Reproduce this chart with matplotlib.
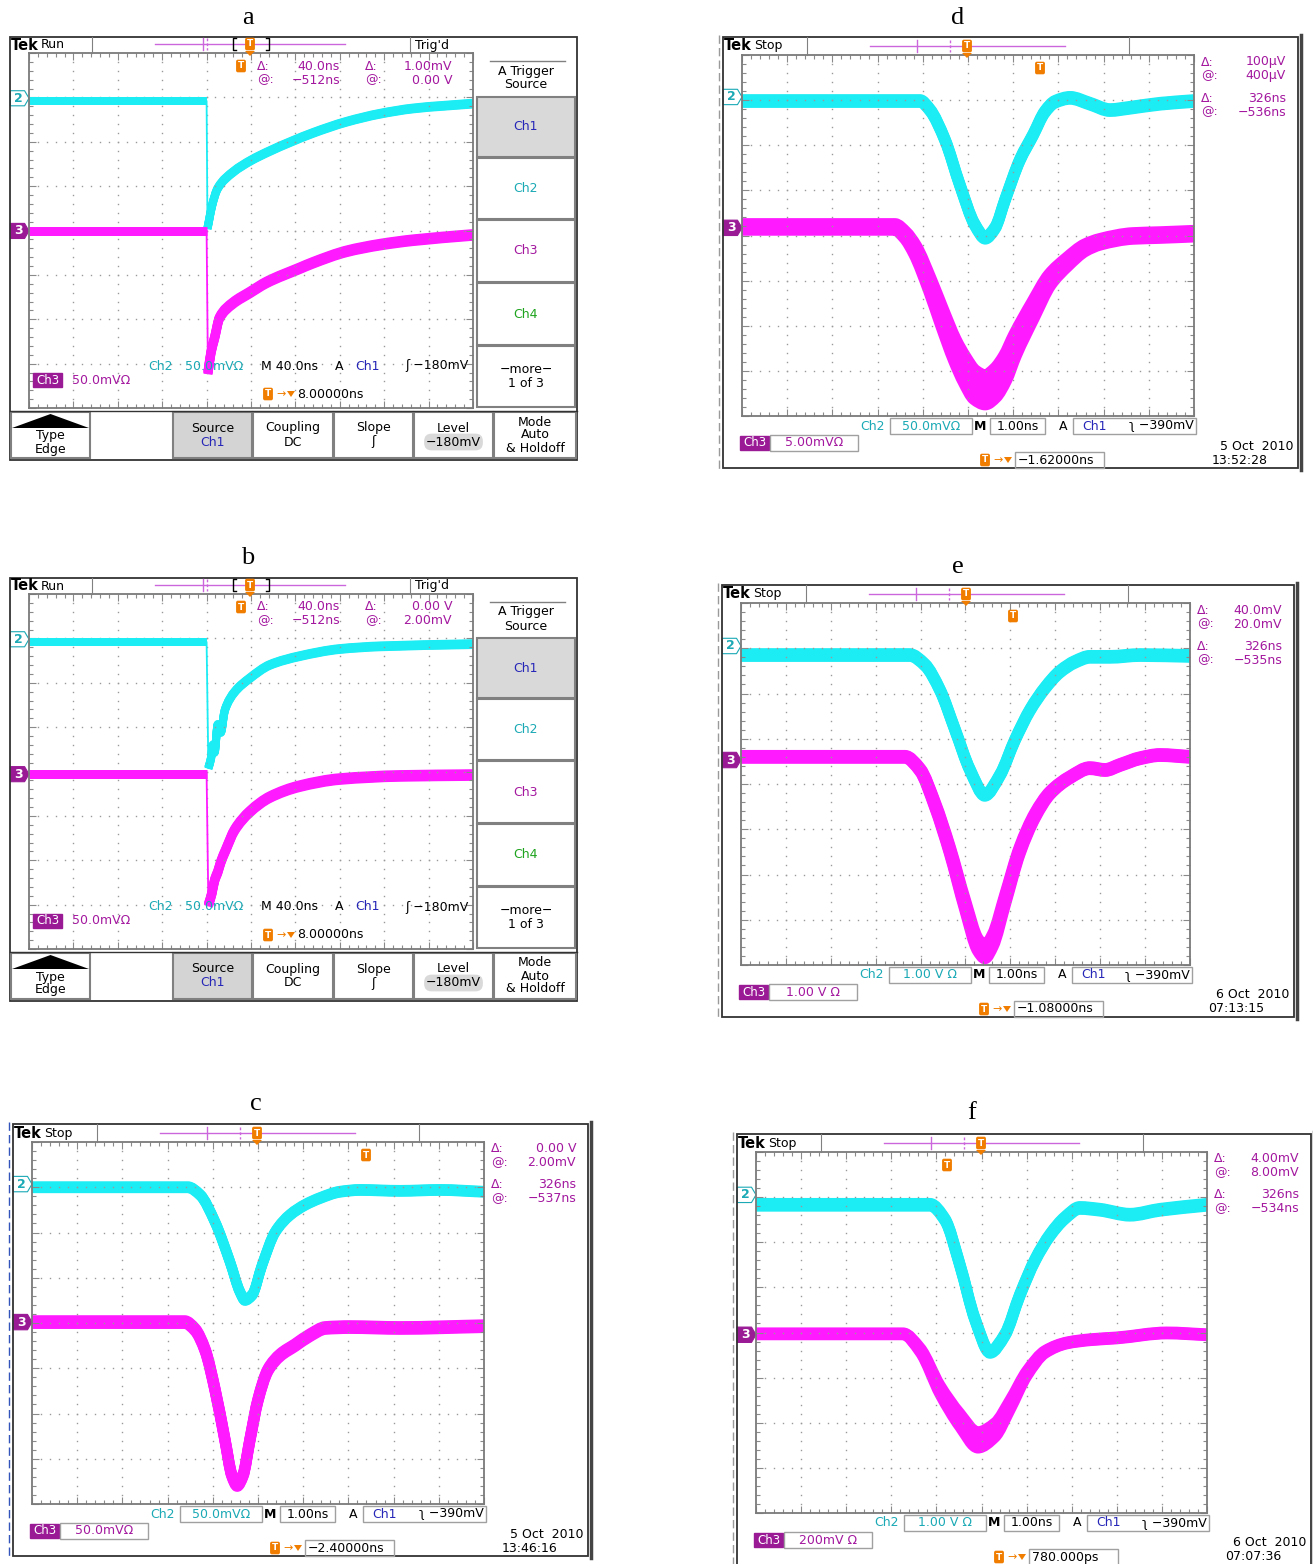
import matplotlib
matplotlib.use('Agg')
import matplotlib.pyplot as plt
from matplotlib.patches import Rectangle, Polygon, PathPatch
from matplotlib.path import Path
import numpy as np

plt.rcParams['font.family'] = ['DejaVu Sans']

W, H = 1313, 1564

# trace data in screen divisions: t = 0..10 across, v = 0..8 from the bottom
a_ch2_t = [0, 4.0, 4.02, 4.05, 4.12, 4.25, 4.6, 5.0, 5.4, 5.9, 6.4, 7.15, 7.9, 8.65, 10.0]
a_ch2_v = [6.91, 6.91, 4.05, 4.2, 4.55, 4.95, 5.32, 5.58, 5.78, 6.0, 6.2, 6.45, 6.63, 6.75, 6.86]
a_ch3_t = [0, 4.0, 4.03, 4.1, 4.18, 4.29, 4.59, 4.97, 5.35, 6.1, 6.39, 7.15, 7.9, 8.64, 10.0]
a_ch3_v = [3.99, 3.99, 0.79, 1.26, 1.58, 2.03, 2.36, 2.6, 2.83, 3.15, 3.27, 3.53, 3.68, 3.78, 3.9]

b_ch2_t = [0, 4.0, 4.04, 4.1, 4.14, 4.18, 4.25, 4.32, 4.41, 4.63, 4.97, 5.42, 6.1, 7.0, 7.9, 10.0]
b_ch2_v = [6.91, 6.91, 4.08, 4.3, 4.59, 4.44, 5.05, 4.89, 5.38, 5.79, 6.1, 6.4, 6.6, 6.76, 6.82, 6.87]
b_ch3_t = [0, 4.0, 4.04, 4.12, 4.18, 4.25, 4.32, 4.43, 4.63, 4.97, 5.42, 6.1, 7.0, 8.35, 10.0]
b_ch3_v = [3.94, 3.94, 0.99, 1.26, 1.55, 1.73, 1.96, 2.23, 2.68, 3.09, 3.42, 3.67, 3.83, 3.9, 3.92]

c_ch2_t = [0, 3.45, 3.72, 4.05, 4.38, 4.6, 4.71, 4.87, 5.09, 5.38, 5.71, 6.04, 6.37, 6.81, 7.26, 8.14, 9.03, 10.0]
c_ch2_v = [7.0, 7.0, 6.83, 6.23, 5.35, 4.69, 4.51, 4.62, 5.28, 6.01, 6.39, 6.61, 6.76, 6.9, 6.94, 6.92, 6.94, 6.9]
c_ch3_t = [0, 3.38, 3.61, 3.83, 4.05, 4.27, 4.42, 4.54, 4.67, 4.82, 5.0, 5.22, 5.49, 5.82, 6.15, 6.49, 7.04, 8.14, 10.0]
c_ch3_v = [4.02, 4.02, 3.85, 3.4, 2.52, 1.41, 0.64, 0.42, 0.64, 1.41, 2.3, 2.96, 3.29, 3.51, 3.73, 3.89, 3.91, 3.89, 3.93]

d_ch2_t = [0, 3.94, 4.16, 4.49, 4.82, 5.15, 5.38, 5.6, 5.82, 6.15, 6.44, 6.7, 6.92, 7.26, 7.7, 8.14, 8.58, 9.25, 10.0]
d_ch2_v = [6.98, 6.98, 6.78, 6.12, 5.12, 4.24, 3.95, 4.17, 4.79, 5.68, 6.23, 6.74, 6.96, 7.05, 6.92, 6.78, 6.83, 6.92, 6.98]
d_ch3_t = [0, 3.38, 3.61, 3.83, 4.16, 4.42, 4.71, 4.93, 5.15, 5.38, 5.6, 5.82, 6.04, 6.44, 6.81, 7.19, 7.59, 7.92, 8.65, 9.25, 10.0]
d_ch3_v = [4.19, 4.19, 4.01, 3.68, 2.9, 2.2, 1.46, 1.02, 0.69, 0.58, 0.73, 1.06, 1.57, 2.35, 3.02, 3.41, 3.73, 3.86, 3.99, 4.01, 4.04]
d_ch3_w = [0.04, 0.04, 0.05, 0.08, 0.12, 0.17, 0.22, 0.27, 0.3, 0.3, 0.3, 0.27, 0.22, 0.16, 0.1, 0.07, 0.05, 0.04, 0.04, 0.04, 0.04]

e_ch2_t = [0, 3.76, 4.1, 4.43, 4.77, 5.1, 5.43, 5.77, 6.1, 6.44, 6.77, 7.1, 7.44, 7.77, 8.22, 8.89, 10.0]
e_ch2_v = [6.85, 6.85, 6.63, 6.08, 5.19, 4.31, 3.76, 4.2, 4.97, 5.64, 6.12, 6.48, 6.7, 6.81, 6.81, 6.85, 6.83]
e_ch3_t = [0, 3.65, 3.99, 4.32, 4.65, 4.99, 5.28, 5.43, 5.61, 5.88, 6.21, 6.55, 6.88, 7.33, 7.77, 8.11, 8.44, 8.89, 9.33, 10.0]
e_ch3_v = [4.6, 4.6, 4.31, 3.54, 2.54, 1.33, 0.44, 0.29, 0.55, 1.44, 2.54, 3.31, 3.8, 4.15, 4.35, 4.31, 4.42, 4.57, 4.64, 4.6]
e_ch3_w = [0.02, 0.02, 0.03, 0.05, 0.07, 0.1, 0.13, 0.14, 0.13, 0.1, 0.07, 0.05, 0.03, 0.02, 0.02, 0.02, 0.02, 0.02, 0.02, 0.02]

f_ch2_t = [0, 3.86, 4.19, 4.52, 4.86, 5.19, 5.52, 5.85, 6.19, 6.52, 6.85, 7.18, 7.63, 8.29, 8.96, 10.0]
f_ch2_v = [6.83, 6.83, 6.5, 5.5, 4.28, 3.57, 3.95, 4.83, 5.61, 6.16, 6.54, 6.76, 6.72, 6.61, 6.72, 6.83]
f_ch3_t = [0, 3.26, 3.64, 4.08, 4.52, 4.92, 5.3, 5.63, 6.01, 6.41, 6.9, 7.41, 8.0, 9.11, 10.0]
f_ch3_v = [3.97, 3.97, 3.61, 2.73, 2.06, 1.62, 1.84, 2.39, 3.1, 3.57, 3.77, 3.84, 3.88, 3.99, 3.95]
f_ch3_w = [0.02, 0.02, 0.05, 0.1, 0.15, 0.18, 0.16, 0.11, 0.06, 0.03, 0.02, 0.02, 0.02, 0.02, 0.02]

# screen text
a_cursor = ['40.0ns', '\u2212512ns', '1.00mV', '0.00 V']
b_cursor = ['40.0ns', '\u2212512ns', '0.00 V', '2.00mV']
c_cursor = ['0.00 V', '2.00mV', '326ns', '\u2212537ns']
d_cursor = ['100\u00b5V', '400\u00b5V', '326ns', '\u2212536ns']
e_cursor = ['40.0mV', '20.0mV', '326ns', '\u2212535ns']
f_cursor = ['4.00mV', '8.00mV', '326ns', '\u2212534ns']
c_scales = ['50.0mV\u03a9', '50.0mV\u03a9', '\u22122.40000ns', '5 Oct  2010', '13:46:16']
d_scales = ['50.0mV\u03a9', '5.00mV\u03a9', '\u22121.62000ns', '5 Oct  2010', '13:52:28']
e_scales = ['1.00 V \u03a9', '1.00 V \u03a9', '\u22121.08000ns', '6 Oct  2010', '07:13:15']
f_scales = ['1.00 V \u03a9', '200mV \u03a9', '780.000ps', '6 Oct  2010', '07:07:36']

# colours
ORANGE = '#f07d00'
TXT_MAG = '#a3189f'
TXT_CYAN = '#1aa9b5'
TR_CYAN = '#1cecf4'
TR_MAG = '#ff1aff'
BOX_MAG = '#9a1a96'
BLUE = '#2626b8'
GREEN = '#1da31d'
GRAY = '#808080'
RECL = '#cc66dd'

fig = plt.figure(figsize=(W / 100, H / 100), dpi=100)
ov = fig.add_axes([0, 0, 1, 1], zorder=5)
ov.set_xlim(0, W)
ov.set_ylim(H, 0)
ov.axis('off')


def rect(x0, y0, x1, y1, ec=GRAY, fc='none', lw=1.0):
    ov.add_patch(Rectangle((x0, y0), x1 - x0, y1 - y0, ec=ec, fc=fc, lw=lw))


def txt(x, y, s, c='black', ha='left', size=9, **kw):
    ov.text(x, y, s, color=c, ha=ha, va='center', size=size, **kw)


def tmark(x, y, tri=False):
    ov.text(x, y, 'T', color='white', size=6.5, weight='bold', ha='center', va='center',
            bbox=dict(boxstyle='round,pad=0.2', fc=ORANGE, ec='none'))
    if tri:
        ov.add_patch(Polygon([(x - 5, y + 7), (x + 5, y + 7), (x, y + 12)], fc=ORANGE, ec='none'))


def graticule(gx0, gy0, gx1, gy1):
    ax = fig.add_axes([gx0 / W, 1 - gy1 / H, (gx1 - gx0) / W, (gy1 - gy0) / H], zorder=2)
    ax.set_xlim(0, 10)
    ax.set_ylim(0, 8)
    ax.set_xticks(range(11))
    ax.set_yticks(range(9))
    ax.set_xticks(np.arange(0, 10.01, 0.2), minor=True)
    ax.set_yticks(np.arange(0, 8.01, 0.2), minor=True)
    ax.tick_params(which='both', direction='in', top=True, right=True, labelbottom=False,
                   labelleft=False, color='#8a8a8a', width=0.8)
    ax.tick_params(which='major', length=5)
    ax.tick_params(which='minor', length=3)
    for s in ax.spines.values():
        s.set_color('#7a7a7a')
        s.set_linewidth(1.3)
    dots_y = np.arange(0.2, 8, 0.2)
    dots_x = np.arange(0.2, 10, 0.2)
    for i in range(1, 10):
        ax.plot([i] * len(dots_y), dots_y, ls='none', marker='s', ms=1.0, color='#9a9a9a', mew=0)
    for j in range(1, 8):
        ax.plot(dots_x, [j] * len(dots_x), ls='none', marker='s', ms=1.0, color='#9a9a9a', mew=0)
    return ax


def smooth_path(t, v, sharp_start=False):
    # monotone cubic (PCHIP style) through the read points, drawn as Bezier segments
    t = np.asarray(t, float)
    v = np.asarray(v, float)
    h = np.diff(t)
    d = np.diff(v) / h
    n = len(t)
    s = np.zeros(n)
    for i in range(1, n - 1):
        if d[i - 1] * d[i] > 0:
            w1 = 2 * h[i] + h[i - 1]
            w2 = h[i] + 2 * h[i - 1]
            s[i] = (w1 + w2) / (w1 / d[i - 1] + w2 / d[i])
    if sharp_start:
        s[0] = d[0]
    s[-1] = d[-1]
    verts = [(t[0], v[0])]
    codes = [Path.MOVETO]
    for i in range(n - 1):
        verts += [(t[i] + h[i] / 3, v[i] + s[i] * h[i] / 3),
                  (t[i + 1] - h[i] / 3, v[i + 1] - s[i + 1] * h[i] / 3),
                  (t[i + 1], v[i + 1])]
        codes += [Path.CURVE4] * 3
    return Path(verts, codes)


def trace(ax, t, v, w, color, px, step=False):
    # px: band thickness in pixels, w: extra vertical spread (divisions)
    t = np.asarray(t, float)
    v = np.asarray(v, float)
    w = np.broadcast_to(np.asarray(w, float), v.shape)
    lw = px * 0.72
    kw = dict(fc='none', ec=color, lw=lw, joinstyle='round', capstyle='butt')
    if step:
        ax.plot(t[:2], v[:2], color=color, lw=lw, solid_capstyle='butt')
        ax.plot(t[1:3], v[1:3], color=color, lw=1.3)
        t, v, w = t[2:], v[2:], w[2:]
    for f in (0, -1, -0.5, 0.5, 1):
        if f != 0 and not np.any(w > 0):
            continue
        ax.add_patch(PathPatch(smooth_path(t, v + f * w, sharp_start=step), **kw))


def chmark(ax, v, num, filled):
    pts = [(-0.42, v - 0.17), (-0.1, v - 0.17), (0, v), (-0.1, v + 0.17), (-0.42, v + 0.17)]
    if filled:
        ax.add_patch(Polygon(pts, fc=BOX_MAG, ec=BOX_MAG, lw=0.8, clip_on=False))
        ax.text(-0.24, v, num, color='white', ha='center', va='center', size=9, weight='bold')
    else:
        ax.add_patch(Polygon(pts, fc='white', ec=TXT_CYAN, lw=0.8, clip_on=False))
        ax.text(-0.24, v, num, color=TXT_CYAN, ha='center', va='center', size=9, weight='bold')


def ch3box(x0, y, w=29):
    rect(x0, y - 7, x0 + w, y + 7, ec=BOX_MAG, fc=BOX_MAG)
    txt(x0 + w / 2, y, 'Ch3', c='white', ha='center', size=8.5)


def record_line(gx0, gy0, a, b, s1, s2, tp):
    y = gy0 - 9
    ov.plot([gx0 + a, gx0 + b], [y, y], color=RECL, lw=1)
    ov.plot([gx0 + s1] * 2, [y - 6, y + 6], color=RECL, lw=1)
    ov.plot([gx0 + s2] * 2, [y - 6, y + 6], color=RECL, lw=1, ls=(0, (2, 1.5)))
    tmark(gx0 + tp, y, tri=True)


def run_panel(g, cur, ch2, ch3, marks):
    gx0, gy0, gx1, gy1 = g
    rect(gx0 - 19, gy0 - 16, gx1 + 104, gy1 + 52, ec='#333333', lw=1.3)
    txt(gx0 - 18, gy0 - 8, 'Tek', size=10.5, weight='bold')
    txt(gx0 + 12, gy0 - 8, 'Run', size=9)
    ov.plot([gx0 + 63] * 2, [gy0 - 16, gy0], color=GRAY, lw=0.8)
    ov.plot([gx0 + 381] * 2, [gy0 - 16, gy0], color=GRAY, lw=0.8)
    txt(gx0 + 386, gy0 - 8, "Trig'd", size=9)
    record_line(gx0, gy0, 126, 316, 174, 178, 221)
    for xb, d in ((204, 1), (240, -1)):
        ov.plot([gx0 + xb + 3 * d, gx0 + xb, gx0 + xb, gx0 + xb + 3 * d],
                [gy0 - 15, gy0 - 15, gy0 - 3, gy0 - 3], color='black', lw=1)

    ax = graticule(gx0, gy0, gx1, gy1)
    trace(ax, ch2[0], ch2[1], 0.02, TR_CYAN, 8, step=True)
    trace(ax, ch3[0], ch3[1], 0.03, TR_MAG, 9, step=True)
    chmark(ax, marks[0], '2', False)
    chmark(ax, marks[1], '3', True)

    tmark(gx0 + 212, gy0 + 13)
    for row, (lab, va, vb) in enumerate((('\u0394:', cur[0], cur[2]), ('@:', cur[1], cur[3]))):
        y = gy0 + 13 + 14 * row
        txt(gx0 + 228, y, lab, c=TXT_MAG)
        txt(gx0 + 311, y, va, c=TXT_MAG, ha='right')
        txt(gx0 + 336, y, lab, c=TXT_MAG)
        txt(gx0 + 423, y, vb, c=TXT_MAG, ha='right')

    y = gy1 - 42
    txt(gx0 + 119, y, 'Ch2', c=TXT_CYAN)
    txt(gx0 + 156, y, '50.0mV\u03a9', c=TXT_CYAN)
    txt(gx0 + 232, y, 'M 40.0ns')
    txt(gx0 + 306, y, 'A')
    txt(gx0 + 326, y, 'Ch1', c=BLUE)
    txt(gx1 - 4, y, '\u0283 \u2212180mV', ha='right')
    ch3box(gx0 + 4, gy1 - 28)
    txt(gx0 + 43, gy1 - 28, '50.0mV\u03a9', c=TXT_MAG)
    tmark(gx0 + 239, gy1 - 14)
    txt(gx0 + 247, gy1 - 14, '\u2192', c=ORANGE, size=8)
    ov.add_patch(Polygon([(gx0 + 258, gy1 - 17), (gx0 + 266, gy1 - 17), (gx0 + 262, gy1 - 11)],
                         fc=ORANGE, ec='none'))
    txt(gx0 + 268, gy1 - 14, '8.00000ns')

    # side menu
    xm0, xm1 = gx1 + 4, gx1 + 102
    xc = (xm0 + xm1) / 2
    ov.plot([gx1 + 17, gx1 + 92], [gy0 + 8, gy0 + 8], color=GRAY, lw=1)
    txt(xc, gy0 + 18, 'A Trigger', ha='center')
    txt(xc, gy0 + 32, 'Source', ha='center')
    side = [(44, 104, 'Ch1', BLUE, '#d9d9d9'), (105, 166, 'Ch2', TXT_CYAN, 'white'),
            (167, 229, 'Ch3', TXT_MAG, 'white'), (230, 292, 'Ch4', GREEN, 'white'),
            (293, 354, '\u2212more\u2212\n1 of 3', 'black', 'white')]
    for y0, y1, lab, c, fc in side:
        rect(xm0, gy0 + y0, xm1, gy0 + y1, ec=GRAY, fc=fc, lw=1.5)
        ov.text(xc, gy0 + (y0 + y1) / 2, lab, color=c, ha='center', va='center', size=9,
                linespacing=1.1)

    # bottom menu
    yb0, yb1 = gy1 + 4, gy1 + 50
    ov.plot([gx0 - 19, gx1 + 104], [gy1 + 3, gy1 + 3], color='#333333', lw=1)
    bottom = [(-18, 61, ['Type', 'Edge'], 'white'), (144, 223, ['Source', 'Ch1'], '#d4d4d4'),
              (224, 304, ['Coupling', 'DC'], 'white'), (305, 384, ['Slope', '\u0283'], 'white'),
              (385, 464, ['Level', '\u2212180mV'], 'white'),
              (465, 547, ['Mode', 'Auto', '& Holdoff'], 'white')]
    for x0, x1, lines, fc in bottom:
        rect(gx0 + x0, yb0, gx0 + x1, yb1, ec=GRAY, fc=fc, lw=1.5)
        cx = gx0 + (x0 + x1) / 2
        if lines[0] == 'Type':
            ov.add_patch(Polygon([(gx0 + x0 + 1, gy1 + 20), (gx0 + x1 - 1, gy1 + 20), (cx, gy1 + 6)],
                                 fc='black', ec='none'))
            ys = [gy1 + 28, gy1 + 41]
        elif len(lines) == 3:
            ys = [gy1 + 14, gy1 + 27, gy1 + 40]
        else:
            ys = [gy1 + 20, gy1 + 34]
        for s, yy in zip(lines, ys):
            kw = {}
            c = 'black'
            if s == 'Ch1':
                c = BLUE
            if s == '\u2212180mV':
                kw['bbox'] = dict(boxstyle='round,pad=0.15,rounding_size=0.6', fc='#d9d9d9', ec='none')
            txt(cx, yy, s, c=c, ha='center', **kw)


def stop_panel(g, cur, ch2, ch3, marks, sc, tpos, w2, w3, px2, px3, edge='#9a9a9a'):
    gx0, gy0, gx1, gy1 = g
    rect(gx0 - 19, gy0 - 18, gx1 + 104, gy1 + 52, ec='#333333', lw=1.3)
    ov.plot([gx1 + 107] * 2, [gy0 - 20, gy1 + 54], color='#444444', lw=2.5)
    ov.plot([gx0 - 23] * 2, [gy0 - 20, gy1 + 54], color=edge, lw=1, ls=(0, (6, 3)))
    txt(gx0 - 18, gy0 - 9, 'Tek', size=10.5, weight='bold')
    txt(gx0 + 12, gy0 - 9, 'Stop', size=9)
    ov.plot([gx0 + 65] * 2, [gy0 - 18, gy0], color=GRAY, lw=0.8)
    ov.plot([gx0 + 387] * 2, [gy0 - 18, gy0], color=GRAY, lw=0.8)
    record_line(gx0, gy0, 128, 323, 175, 208, 225)

    ax = graticule(gx0, gy0, gx1, gy1)
    trace(ax, ch2[0], ch2[1], w2, TR_CYAN, px2)
    trace(ax, ch3[0], ch3[1], w3, TR_MAG, px3)
    chmark(ax, marks[0], '2', False)
    chmark(ax, marks[1], '3', True)
    tmark(gx0 + tpos, gy0 + 13)

    labs = ['\u0394:', '@:', '\u0394:', '@:']
    for k, yy in enumerate((7, 21, 43, 57)):
        txt(gx1 + 7, gy0 + yy, labs[k], c=TXT_MAG)
        txt(gx1 + 92, gy0 + yy, cur[k], c=TXT_MAG, ha='right')

    y = gy1 + 10
    txt(gx0 + 118, y, 'Ch2', c=TXT_CYAN)
    rect(gx0 + 148, y - 8, gx0 + 230, y + 8, ec='#a0a0a0')
    txt(gx0 + 189, y, sc[0], c=TXT_CYAN, ha='center')
    txt(gx0 + 238, y, 'M', ha='center', weight='bold')
    rect(gx0 + 248, y - 8, gx0 + 303, y + 8, ec='#a0a0a0')
    txt(gx0 + 275.5, y, '1.00ns', ha='center')
    txt(gx0 + 321, y, 'A', ha='center')
    rect(gx0 + 331, y - 8, gx1 + 2, y + 8, ec='#a0a0a0')
    txt(gx0 + 340, y, 'Ch1', c=BLUE)
    txt(gx1, y, '\u0285 \u2212390mV', ha='right')

    y = gy1 + 27
    ch3box(gx0 - 2, y)
    rect(gx0 + 28, y - 8, gx0 + 116, y + 8, ec='#a0a0a0')
    txt(gx0 + 72, y, sc[1], c=TXT_MAG, ha='center')

    y = gy1 + 44
    tmark(gx0 + 243, y)
    txt(gx0 + 251, y, '\u2192', c=ORANGE, size=8)
    ov.add_patch(Polygon([(gx0 + 262, y - 3), (gx0 + 270, y - 3), (gx0 + 266, y + 3)],
                         fc=ORANGE, ec='none'))
    rect(gx0 + 273, y - 8, gx0 + 362, y + 8, ec='#a0a0a0')
    txt(gx0 + 276, y, sc[2])
    txt(gx1 + 63, gy1 + 30, sc[3], ha='center')
    txt(gx1 + 46, gy1 + 44, sc[4], ha='center')


run_panel((29, 53, 473, 408), a_cursor, (a_ch2_t, a_ch2_v), (a_ch3_t, a_ch3_v), (6.98, 3.99))
run_panel((29, 594, 473, 949), b_cursor, (b_ch2_t, b_ch2_v), (b_ch3_t, b_ch3_v), (6.98, 3.94))
stop_panel((32, 1142, 484, 1504), c_cursor, (c_ch2_t, c_ch2_v), (c_ch3_t, c_ch3_v), (7.07, 4.02),
           c_scales, 334, 0.02, 0.03, 10, 11, edge='#3355bb')
stop_panel((742, 55, 1194, 416), d_cursor, (d_ch2_t, d_ch2_v), (d_ch3_t, d_ch3_v), (7.07, 4.17),
           d_scales, 298, 0.03, d_ch3_w, 11, 14)
stop_panel((741, 603, 1190, 965), e_cursor, (e_ch2_t, e_ch2_v), (e_ch3_t, e_ch3_v), (7.05, 4.53),
           e_scales, 272, 0.03, e_ch3_w, 11, 12)
stop_panel((756, 1152, 1207, 1513), f_cursor, (f_ch2_t, f_ch2_v), (f_ch3_t, f_ch3_v), (7.05, 3.95),
           f_scales, 191, 0.03, f_ch3_w, 11, 11)

for x, y, s in ((248, 18, 'a'), (248, 558, 'b'), (256, 1104, 'c'),
                (958, 18, 'd'), (958, 567, 'e'), (972, 1113, 'f')):
    ov.text(x, y, s, ha='center', va='center', size=19, family='Liberation Serif')

fig.savefig('out.png', dpi=100)
